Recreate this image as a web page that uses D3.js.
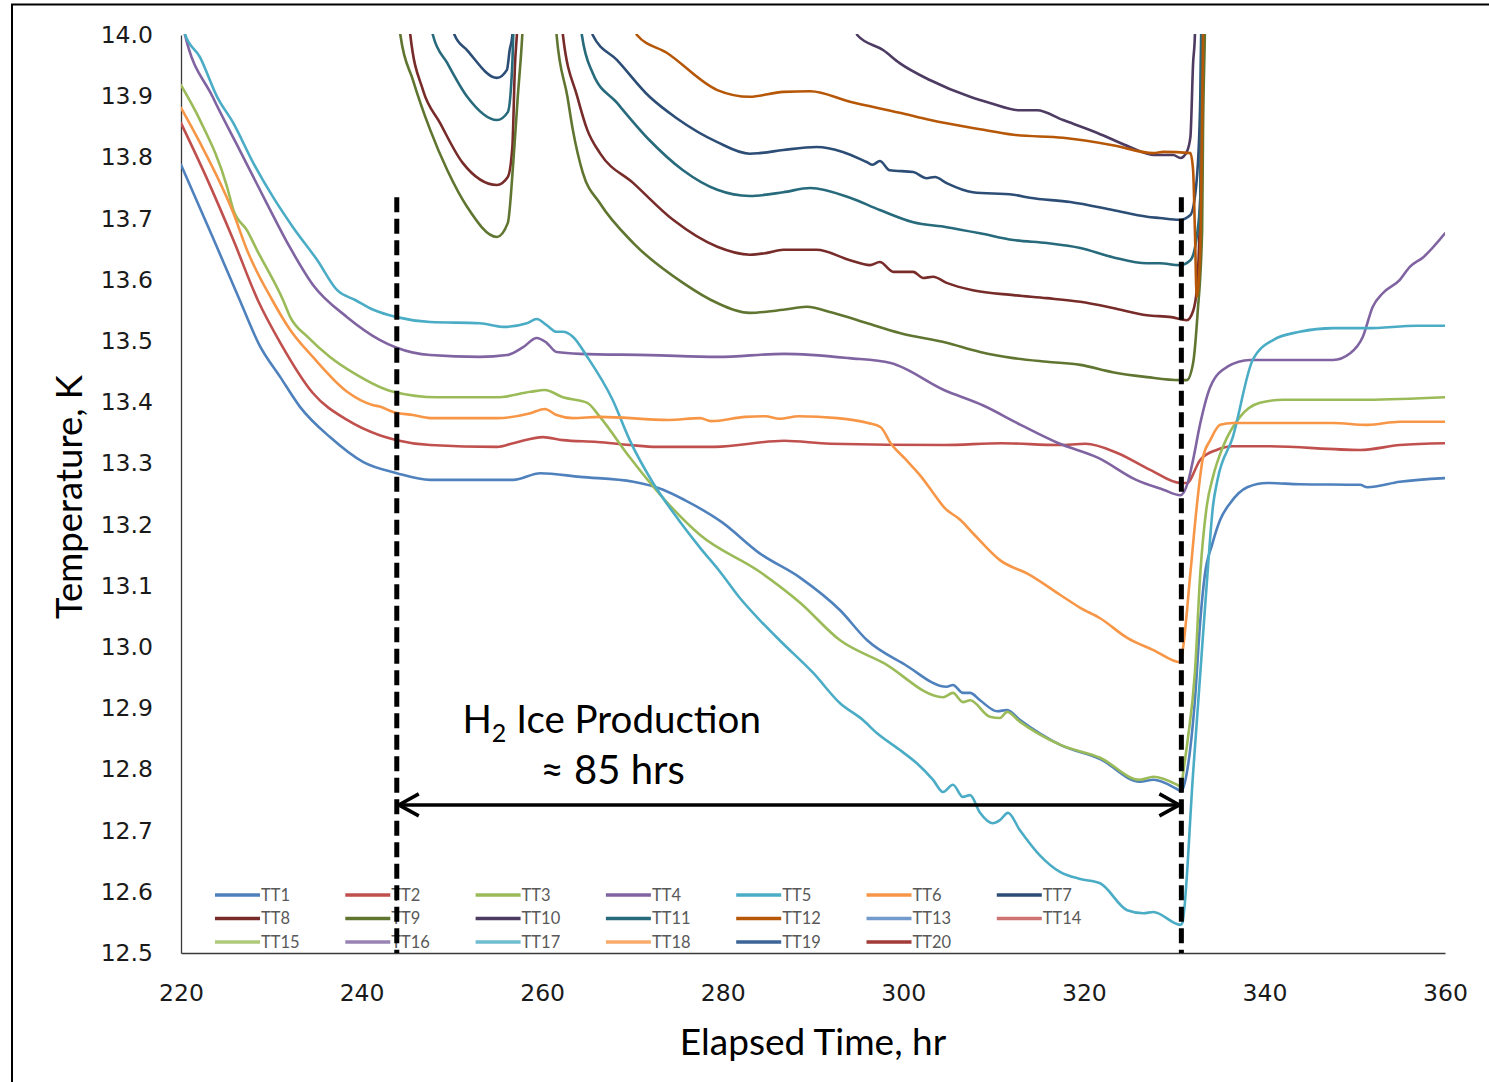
<!DOCTYPE html>
<html><head><meta charset="utf-8">
<script src="https://cdn.jsdelivr.net/npm/d3@7"></script>
<style>
html,body{margin:0;padding:0;background:#fff;}
svg{display:block;}
</style></head>
<body>
<svg id="chart" width="1489" height="1082"></svg>
<script>
// ---------- data ----------
const xTicks = [220, 240, 260, 280, 300, 320, 340, 360];
const yTicks = [12.5, 12.6, 12.7, 12.8, 12.9, 13.0, 13.1, 13.2, 13.3, 13.4, 13.5, 13.6, 13.7, 13.8, 13.9, 14.0];
const seriesNames = ["TT1","TT2","TT3","TT4","TT5","TT6","TT7","TT8","TT9","TT10","TT11","TT12","TT13","TT14","TT15","TT16","TT17","TT18","TT19","TT20"];
const seriesColors = ["#4F81BD","#C0504D","#9BBB59","#8064A2","#4BACC6","#F79646","#2C4D75","#772C2A","#5F7530","#4D3B62","#276A7C","#B65708","#729ACA","#CD7371","#AFC97A","#9983B5","#6FBDD1","#F9AB6B","#3C6497","#A23A37"];

// [elapsed time hr, temperature K]
const tt1 = [[220.0,13.788],[223.5,13.67],[226.5,13.567],[228.7,13.493],[231.0,13.441],[233.2,13.392],[236.5,13.343],[240.2,13.302],[243.9,13.284],[247.6,13.273],[256.8,13.273],[259.8,13.284],[264.2,13.278],[270.1,13.270],[273.4,13.257],[275.8,13.240],[279.9,13.204],[284.1,13.153],[288.6,13.113],[293.0,13.060],[296.0,13.011],[300.2,12.971],[304.8,12.935],[305.5,12.938],[306.6,12.925],[307.4,12.925],[308.5,12.913],[310.4,12.895],[311.5,12.897],[312.9,12.881],[317.4,12.840],[321.8,12.817],[326.2,12.780],[327.7,12.783],[330.3,12.768],[330.8,12.764],[331.4,12.794],[332.3,12.913],[332.9,13.044],[333.4,13.118],[334.2,13.167],[335.1,13.208],[336.2,13.235],[338.1,13.261],[340.3,13.268],[343.9,13.266],[350.6,13.265],[351.4,13.261],[355.0,13.270],[360.0,13.276]];
const tt2 = [[220.0,13.856],[222.7,13.771],[225.8,13.665],[228.5,13.567],[231.0,13.497],[234.6,13.415],[238.4,13.371],[242.0,13.346],[243.9,13.338],[247.6,13.330],[255.0,13.327],[256.8,13.333],[260.1,13.343],[262.3,13.338],[266.1,13.335],[269.7,13.330],[272.7,13.327],[279.1,13.327],[286.8,13.337],[291.9,13.332],[304.5,13.330],[310.9,13.333],[317.2,13.330],[320.2,13.332],[323.7,13.317],[327.4,13.289],[330.7,13.268],[331.4,13.268],[332.9,13.306],[334.7,13.322],[336.5,13.328],[340.3,13.328],[350.6,13.322],[355.0,13.330],[360.0,13.333]];
const tt3 = [[220.0,13.918],[222.1,13.861],[225.1,13.752],[225.8,13.714],[227.3,13.681],[228.4,13.649],[231.3,13.567],[232.1,13.539],[234.0,13.507],[236.5,13.474],[239.1,13.448],[243.5,13.417],[248.4,13.408],[255.0,13.408],[258.7,13.417],[260.3,13.420],[262.3,13.408],[265.0,13.399],[266.4,13.376],[269.7,13.310],[273.6,13.240],[277.5,13.183],[284.1,13.123],[288.6,13.072],[293.0,13.011],[297.8,12.974],[304.4,12.918],[305.5,12.925],[306.6,12.910],[307.4,12.913],[309.6,12.886],[310.7,12.884],[311.5,12.894],[312.9,12.878],[317.4,12.840],[321.8,12.819],[326.2,12.783],[327.7,12.788],[330.3,12.775],[330.8,12.771],[331.0,12.794],[331.5,12.848],[332.3,12.958],[332.9,13.121],[333.6,13.229],[334.3,13.278],[335.4,13.327],[337.3,13.376],[339.5,13.399],[342.1,13.404],[351.4,13.404],[360.0,13.408]];
const tt4 = [[220.0,14.03],[220.4,14.003],[223.5,13.899],[226.5,13.812],[229.5,13.725],[232.1,13.652],[234.6,13.592],[238.4,13.539],[242.0,13.502],[243.9,13.489],[247.6,13.477],[253.1,13.474],[256.1,13.477],[257.9,13.490],[259.4,13.505],[260.5,13.497],[261.6,13.482],[264.2,13.479],[271.9,13.477],[279.4,13.474],[286.8,13.479],[294.0,13.472],[298.6,13.464],[304.5,13.420],[308.8,13.395],[313.0,13.363],[317.2,13.333],[321.6,13.309],[325.8,13.273],[328.8,13.257],[330.7,13.248],[331.5,13.268],[332.1,13.306],[332.9,13.366],[334.0,13.425],[335.9,13.458],[338.4,13.469],[347.6,13.469],[349.5,13.480],[350.9,13.507],[352.0,13.556],[353.1,13.578],[355.0,13.600],[356.1,13.621],[357.6,13.637],[360.0,13.676]];
const tt5 = [[220.0,14.03],[220.4,14.003],[222.1,13.964],[224.0,13.899],[225.8,13.856],[228.0,13.791],[230.2,13.735],[232.4,13.686],[235.1,13.632],[237.3,13.583],[239.3,13.567],[241.3,13.551],[243.9,13.539],[247.6,13.531],[253.1,13.529],[255.7,13.523],[258.3,13.529],[259.4,13.536],[260.5,13.526],[261.6,13.515],[262.3,13.515],[263.4,13.507],[265.0,13.474],[267.8,13.404],[269.7,13.338],[272.2,13.270],[274.7,13.216],[277.5,13.162],[279.7,13.123],[281.9,13.080],[284.1,13.044],[286.3,13.011],[290.0,12.958],[293.0,12.908],[295.5,12.881],[297.1,12.859],[299.6,12.832],[301.5,12.810],[303.3,12.783],[304.4,12.763],[305.5,12.775],[306.6,12.755],[307.4,12.758],[308.5,12.729],[309.9,12.712],[310.7,12.717],[311.6,12.729],[312.9,12.701],[315.1,12.660],[317.4,12.632],[319.6,12.621],[321.8,12.614],[324.8,12.570],[326.6,12.565],[327.7,12.567],[330.7,12.546],[330.9,12.549],[332.1,12.794],[332.9,12.958],[333.7,13.121],[334.3,13.230],[334.8,13.273],[336.5,13.343],[338.7,13.469],[341.0,13.502],[343.9,13.515],[347.6,13.521],[351.4,13.521],[356.9,13.525],[360.0,13.525]];
const tt6 = [[220.0,13.881],[222.1,13.824],[225.8,13.709],[227.3,13.649],[230.1,13.567],[232.1,13.518],[234.6,13.474],[238.4,13.417],[241.3,13.395],[242.0,13.393],[243.5,13.384],[245.7,13.379],[247.6,13.374],[255.0,13.374],[258.7,13.382],[260.3,13.389],[261.6,13.379],[263.4,13.374],[266.4,13.376],[274.0,13.371],[277.5,13.374],[278.7,13.369],[282.5,13.376],[284.7,13.377],[286.3,13.373],[288.4,13.377],[292.7,13.374],[296.1,13.366],[297.5,13.359],[298.6,13.333],[300.3,13.306],[302.0,13.278],[303.3,13.252],[304.6,13.227],[306.3,13.208],[307.9,13.183],[310.7,13.142],[314.0,13.118],[317.4,13.085],[319.6,13.064],[321.8,13.047],[324.8,13.015],[327.7,12.995],[330.7,12.975],[331.0,13.000],[331.8,13.121],[332.5,13.229],[333.2,13.310],[334.0,13.338],[335.1,13.363],[336.5,13.366],[347.6,13.366],[351.4,13.363],[355.0,13.368],[360.0,13.368]];
const tt7 = [[250.0,14.04],[250.3,14.0],[251.7,13.975],[255.0,13.930],[256.1,13.943],[256.4,13.975],[256.7,14.0],[256.9,14.05],[261.0,14.3],[265.3,14.05],[265.6,14.0],[268.3,13.959],[271.9,13.899],[274.9,13.864],[279.4,13.825],[283.0,13.806],[284.1,13.807],[286.7,13.812],[290.4,13.817],[293.3,13.809],[296.0,13.792],[296.6,13.788],[297.4,13.794],[298.5,13.779],[301.1,13.776],[302.6,13.766],[303.5,13.768],[304.8,13.758],[307.7,13.743],[312.2,13.739],[314.0,13.734],[318.5,13.727],[323.2,13.714],[327.0,13.703],[328.4,13.701],[330.6,13.698],[331.8,13.706],[332.5,13.763],[332.9,13.899],[333.0,14.0],[333.1,14.1]];
const tt8 = [[245.2,14.04],[245.4,14.0],[246.8,13.910],[248.7,13.856],[251.2,13.791],[255.0,13.755],[256.2,13.768],[256.7,13.817],[257.0,13.954],[257.2,14.0],[257.4,14.06],[259.8,14.3],[262.1,14.06],[262.3,14.0],[263.9,13.899],[265.0,13.845],[266.4,13.807],[270.1,13.758],[274.5,13.698],[279.4,13.654],[283.0,13.641],[284.9,13.644],[286.7,13.649],[290.4,13.649],[294.1,13.632],[296.3,13.624],[297.4,13.629],[298.9,13.613],[301.1,13.613],[302.2,13.603],[303.3,13.605],[304.8,13.595],[307.7,13.583],[312.2,13.575],[315.9,13.570],[319.6,13.564],[323.2,13.554],[327.0,13.542],[329.7,13.539],[331.4,13.534],[332.1,13.549],[332.5,13.583],[332.9,13.735],[333.1,14.0],[333.2,14.1]];
const tt9 = [[243.9,14.06],[244.3,14.0],[245.7,13.926],[247.6,13.845],[249.5,13.779],[251.7,13.719],[255.0,13.670],[256.2,13.693],[256.8,13.791],[257.3,13.899],[257.8,14.0],[258.0,14.06],[259.7,14.3],[261.3,14.06],[261.6,14.0],[262.8,13.899],[263.4,13.845],[264.5,13.775],[266.4,13.725],[270.1,13.660],[275.6,13.595],[279.4,13.562],[283.0,13.546],[286.7,13.551],[289.3,13.556],[292.2,13.546],[296.0,13.529],[299.6,13.513],[304.8,13.497],[308.5,13.482],[312.2,13.472],[315.9,13.466],[319.6,13.461],[323.2,13.449],[327.0,13.441],[330.6,13.436],[331.4,13.436],[332.1,13.464],[332.6,13.546],[333.1,13.681],[333.2,13.845],[333.4,14.0],[333.5,14.1]];
const tt10 = [[294.5,14.04],[294.9,14.0],[297.8,13.975],[299.6,13.954],[303.0,13.926],[307.4,13.899],[309.6,13.889],[312.9,13.877],[314.8,13.877],[317.7,13.861],[321.5,13.840],[325.1,13.817],[327.7,13.804],[329.9,13.804],[330.7,13.799],[331.4,13.809],[331.8,13.833],[332.1,13.954],[332.3,14.0],[332.4,14.1]];
const tt11 = [[247.6,14.04],[247.9,14.0],[249.5,13.954],[251.7,13.899],[255.0,13.861],[256.2,13.874],[256.7,13.954],[256.8,14.0],[257.0,14.06],[260.6,14.3],[264.2,14.06],[264.4,14.0],[265.6,13.938],[268.3,13.889],[271.9,13.828],[275.6,13.779],[279.4,13.747],[283.0,13.737],[286.7,13.743],[289.7,13.750],[294.1,13.734],[297.4,13.714],[301.1,13.694],[304.8,13.686],[308.5,13.676],[312.2,13.665],[315.9,13.660],[319.6,13.652],[323.2,13.637],[327.0,13.627],[328.4,13.627],[330.6,13.624],[331.8,13.632],[332.5,13.670],[332.9,13.735],[333.0,14.0],[333.1,14.1]];
const tt12 = [[270.0,14.04],[270.5,14.0],[273.8,13.971],[279.4,13.910],[283.0,13.899],[286.7,13.907],[289.7,13.908],[294.1,13.891],[299.6,13.873],[303.0,13.861],[308.5,13.846],[312.2,13.837],[317.7,13.832],[323.2,13.820],[327.7,13.807],[328.8,13.809],[331.8,13.807],[332.1,13.779],[332.3,13.681],[332.5,13.572],[332.9,13.649],[333.2,14.0],[333.3,14.1]];
const tt13 = [], tt14 = [], tt15 = [], tt16 = [], tt17 = [], tt18 = [], tt19 = [], tt20 = [];
const seriesData = [tt1,tt2,tt3,tt4,tt5,tt6,tt7,tt8,tt9,tt10,tt11,tt12,tt13,tt14,tt15,tt16,tt17,tt18,tt19,tt20];

// annotation values
const iceStart = 243.9, iceEnd = 330.8, markerTop = 13.735, arrowLevel = 12.742;

// ---------- drawing ----------
const svg = d3.select("#chart");
const W = 1489, H = 1082;
const plot = {left: 181, right: 1445, top: 35, bottom: 953};
const x = d3.scaleLinear().domain([220, 360]).range([plot.left, plot.right]);
const y = d3.scaleLinear().domain([12.5, 14.0]).range([plot.bottom, plot.top]);

svg.append("rect").attr("x",0).attr("y",0).attr("width",W).attr("height",H).attr("fill","#fff");
svg.append("rect").attr("x",12).attr("y",4.5).attr("width",1600).attr("height",1200)
   .attr("fill","none").attr("stroke","#000").attr("stroke-width",2);

svg.append("defs").append("clipPath").attr("id","plotclip").append("rect")
  .attr("x",plot.left).attr("y",plot.top-1).attr("width",plot.right-plot.left).attr("height",plot.bottom-plot.top+1);

// axes
const yAxis = d3.axisLeft(y).tickValues(yTicks).tickFormat(d3.format(".1f")).tickSize(0).tickPadding(28);
const gy = svg.append("g").attr("transform",`translate(${plot.left},0)`).call(yAxis);
const xAxis = d3.axisBottom(x).tickValues(xTicks).tickFormat(d3.format("d")).tickSize(0).tickPadding(31);
const gx = svg.append("g").attr("transform",`translate(0,${plot.bottom})`).call(xAxis);
[gy,gx].forEach(g=>{
  g.selectAll("text").attr("font-family","'DejaVu Sans', Verdana, sans-serif").attr("font-size","23.5px").attr("fill","#1a1a1a");
  g.select(".domain").attr("stroke","#3a3a3a").attr("stroke-width",1.3);
});

// lines
const line = d3.line().x(d=>x(d[0])).y(d=>y(d[1])).curve(d3.curveMonotoneX);
const lg = svg.append("g").attr("clip-path","url(#plotclip)");
seriesData.forEach((s,i)=>{
  if (!s.length) return;
  lg.append("path").datum(s).attr("d",line).attr("fill","none")
    .attr("stroke",seriesColors[i]).attr("stroke-width",2.6)
    .attr("stroke-linejoin","round").attr("stroke-linecap","round");
});

// legend
const legX0 = 215, legDX = 130.3, legRows = [895, 918.5, 942];
const leg = svg.append("g");
seriesNames.forEach((n,i)=>{
  const col = i % 7, row = Math.floor(i / 7);
  const lx = legX0 + col*legDX, ly = legRows[row];
  leg.append("line").attr("x1",lx).attr("x2",lx+45).attr("y1",ly).attr("y2",ly)
     .attr("stroke",seriesColors[i]).attr("stroke-width",3.5);
  leg.append("text").attr("x",lx+46).attr("y",ly).attr("dy","0.36em")
     .attr("font-family","Lato, 'Open Sans', sans-serif").attr("font-size","16.5px")
     .attr("fill","#595959").text(n);
});

// dashed markers
[iceStart, iceEnd].forEach(t=>{
  svg.append("line").attr("x1",x(t)).attr("x2",x(t)).attr("y1",y(markerTop)).attr("y2",y(12.5))
    .attr("stroke","#000").attr("stroke-width",5).attr("stroke-dasharray","15,6.5");
});

// arrow
const ay = y(arrowLevel), ax0 = x(iceStart)+1, ax1 = x(iceEnd)-1;
svg.append("line").attr("x1",ax0).attr("x2",ax1).attr("y1",ay).attr("y2",ay)
   .attr("stroke","#000").attr("stroke-width",3.5);
svg.append("path").attr("d",`M${ax0+21},${ay-11}L${ax0+1},${ay}L${ax0+21},${ay+11}`)
   .attr("fill","none").attr("stroke","#000").attr("stroke-width",3.5);
svg.append("path").attr("d",`M${ax1-21},${ay-11}L${ax1-1},${ay}L${ax1-21},${ay+11}`)
   .attr("fill","none").attr("stroke","#000").attr("stroke-width",3.5);

// annotation text
const labelT = 267.7;
const t1 = svg.append("text").attr("x",x(labelT)).attr("y",y(12.859)).attr("text-anchor","middle")
  .attr("font-family","Lato, 'Open Sans', sans-serif").attr("font-size","38.5px").attr("fill","#000");
t1.append("tspan").text("H");
t1.append("tspan").attr("font-size","25px").attr("dy",9).text("2");
t1.append("tspan").attr("dy",-9).text(" Ice Production");
svg.append("text").attr("x",x(labelT)+1).attr("y",y(12.776)).attr("text-anchor","middle")
  .attr("font-family","Lato, 'Open Sans', sans-serif").attr("font-size","40px").attr("fill","#000")
  .text("≈ 85 hrs");

// axis titles
svg.append("text").attr("transform",`translate(82,497) rotate(-90)`)
  .attr("text-anchor","middle").attr("font-family","Lato, 'Open Sans', sans-serif")
  .attr("font-size","36.5px").attr("fill","#000").text("Temperature, K");
svg.append("text").attr("x",813).attr("y",1055).attr("text-anchor","middle")
  .attr("font-family","Lato, 'Open Sans', sans-serif")
  .attr("font-size","37px").attr("fill","#000").text("Elapsed Time, hr");
</script>
</body></html>
